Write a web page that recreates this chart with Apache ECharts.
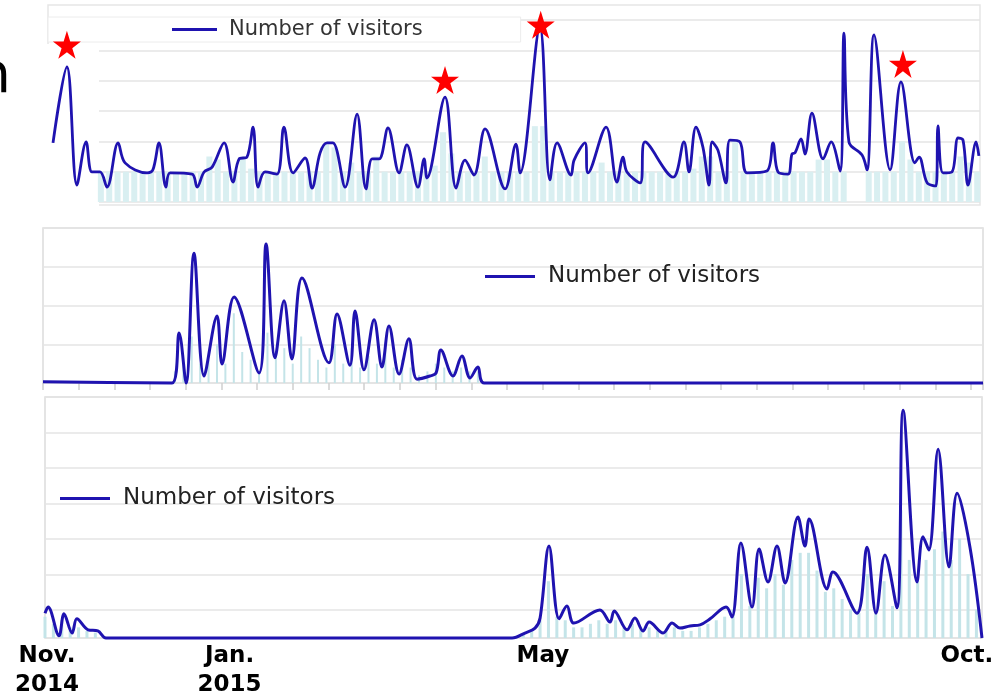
<!DOCTYPE html>
<html><head><meta charset="utf-8">
<script src="https://cdn.jsdelivr.net/npm/echarts@6/dist/echarts.min.js"></script>
<style>html,body{margin:0;padding:0;background:#fff}#c{width:1002px;height:698px}</style>
</head><body><div id="c"></div><script>
// ---- data (x = day since 1 Nov 2014, y = gridline units) ----
const seriesName = 'Number of visitors';
const topLine = [[1.8,1.95],[6.8,4.45],[10.4,0.56],[13.7,1.98],[15.8,0.99],[18.7,0.99],[21.2,0.49],[25.2,1.95],[27.7,1.29],[35.6,0.96],[37.7,1.06],[39.9,1.95],[42.4,0.49],[43.9,0.96],[51.8,0.92],[53.6,0.49],[56.1,0.99],[59.0,1.15],[63.3,1.95],[66.5,0.66],[68.7,1.42],[71.5,1.48],[73.7,2.47],[75.5,0.49],[78.0,0.99],[82.3,0.92],[84.8,2.47],[88.1,0.96],[92.4,1.45],[94.9,0.46],[97.8,1.62],[100.3,1.95],[102.4,1.95],[106.8,0.49],[111.1,2.90],[114.3,0.43],[116.5,1.42],[119.0,1.42],[122.2,2.44],[126.2,0.96],[129.0,1.88],[133.0,0.49],[135.2,1.42],[136.2,0.79],[142.7,3.46],[146.7,0.46],[149.9,1.38],[153.1,0.89],[157.1,2.41],[164.3,0.43],[168.2,1.91],[169.7,0.96],[176.8,5.77],[180.4,0.73],[183.0,1.95],[188.0,0.89],[189.1,1.38],[193.0,1.95],[194.1,0.96],[200.6,2.47],[204.5,0.66],[206.7,1.48],[208.1,0.99],[212.8,0.63],[214.6,1.98],[224.7,0.82],[228.6,1.98],[230.4,0.99],[232.9,2.47],[235.4,1.81],[237.6,0.56],[238.7,1.98],[240.8,1.71],[243.7,0.63],[245.1,2.04],[248.7,1.98],[251.3,0.96],[258.4,1.02],[260.6,1.95],[262.4,0.99],[266.0,0.92],[267.4,1.58],[268.5,1.62],[270.7,2.08],[272.1,1.58],[274.6,2.93],[278.6,1.42],[281.5,1.98],[284.7,1.02],[286.1,5.57],[287.9,1.98],[292.6,1.55],[294.4,1.06],[296.9,5.51],[302.7,1.06],[306.6,3.96],[311.6,1.29],[313.1,1.48],[316.0,0.63],[319.2,0.53],[319.9,2.51],[321.7,0.96],[324.9,0.99],[327.1,2.11],[328.9,2.04],[330.7,0.56],[333.6,1.98],[334.6,1.52]];
const topStars = [[6.8,5.18],[142.7,4.02],[177.1,5.84],[307.3,4.55]];
const barStep = 3;
const topBarStart = 19;
const topBars = [1,1,1,1,1,1,1,1,1,1,1,1,1,1.5,1.4,1,1,1.5,1.1,1,1,1,1,1,1,1,1,1.9,1.8,1,1.3,1,1,1.5,1,1,1,1,1,1,1.2,2.3,1.6,1,1,1,1.5,1,1,1,1,1,2.5,2.5,1,1,1,1,1,1,1.3,1,1,1,1,1,1,1,1,1,1,1.1,1.5,1.5,1,1,2,1,1,1,1,1,1,1,1,1,1.4,1.4,1,1,0,0,1,1,1,1,2,1.4,1,1,1,1,1,1.5,1.3,1];
const midLine = [[0,0.03],[46,0],[48.5,1.29],[51,0],[53.8,3.35],[57.4,0.18],[62,1.73],[63.8,0.49],[68.1,2.22],[77,0.26],[79.5,3.59],[82.7,0.65],[85.9,2.12],[88.7,0.62],[92.3,2.71],[101.9,0.52],[104.8,1.78],[109.4,0.46],[111.2,1.86],[114.4,0.34],[118,1.63],[120.8,0.41],[123.3,1.47],[126.9,0.23],[130.4,1.14],[133.3,0.10],[137.9,0.18],[140.1,0.26],[141.8,0.85],[146.1,0.18],[149.3,0.70],[152.2,0.13],[155,0.41],[157.2,0],[335,0]];
const midBarStart = 47;
const midBars = [0.3,0.5,1.2,0.5,0.6,1.0,0.5,1.8,0.8,0.6,0.3,1.3,0.7,0.9,0.5,1.2,0.9,0.6,0.4,1.0,0.5,0.9,0.4,0.7,0.5,0.9,0.4,0.6,0.4,0.2,0.3,0.5,0.4,0.3,0.4,0.3,0.3];
const botLine = [[0,0.70],[1.1,0.87],[5.0,0.06],[6.8,0.68],[9.7,0.14],[11.4,0.54],[15.4,0.23],[18.9,0.20],[21.8,0],[167,0],[171.6,0.14],[175.2,0.28],[177,0.56],[180.2,2.59],[183.8,0.54],[186.6,0.9],[189.1,0.42],[198.4,0.79],[202.0,0.45],[203.5,0.76],[208.1,0.23],[210.9,0.56],[213.8,0.20],[216.0,0.45],[221.0,0.14],[224.2,0.42],[227.0,0.28],[230.6,0.34],[234.2,0.37],[237.8,0.54],[243.5,0.87],[245.6,0.59],[248.8,2.68],[252.8,0.87],[255.3,2.51],[258.5,1.58],[261.7,2.59],[264.6,1.55],[269.2,3.41],[271.7,2.59],[273.2,3.35],[279.6,1.38],[281.7,1.86],[290.3,0.70],[293.9,2.56],[297.1,0.70],[300.3,2.34],[304.6,0.85],[306.8,6.42],[311.8,1.58],[313.9,2.85],[316.0,2.48],[319.3,5.32],[323.2,2.0],[326.1,4.08],[330.7,2.56],[335,0]];
const botBarStartA = 0;
const botBarsA = [0.6,0.4,0.5,0.3,0.3,0.2,0.15];
const botBarStartB = 171;
const botBarsB = [0.1,0.2,0.5,1.6,0.6,0.5,0.3,0.3,0.4,0.5,0.4,0.5,0.3,0.4,0.3,0.3,0.2,0.2,0.3,0.2,0.2,0.3,0.4,0.5,0.6,0.8,1.8,0.9,1.7,1.4,1.8,1.5,2.2,2.4,2.4,1.9,1.3,1.4,1.1,0.8,0.7,1.8,0.8,1.6,0.9,3.6,2.2,1.6,2.2,2.5,3.0,2.2,2.8,1.8,0.8];
const xTickDays = [0.7, 66, 178, 329.6];
const xTickLabels = ['Nov.\n2014', 'Jan.\n2015', 'May', 'Oct.'];

// ---- styling ----
const BLUE = '#1f13b0';
const GRIDC = '#e4e4e4';
const FONT = 'DejaVu Sans';
const STAR = 'path://M50,0 L61.2,34.5 L97.6,34.5 L68.2,55.9 L79.4,90.5 L50,69.1 L20.6,90.5 L31.8,55.9 L2.4,34.5 L38.8,34.5 Z';
function pairs(start, vals) { return vals.map((v, i) => [start + i * barStep, v]); }

const chart = echarts.init(document.getElementById('c'), null, {renderer: 'canvas'});
const hiddenX = (gi) => ({gridIndex: gi, type: 'value', min: 0, max: 335, axisLine: {show: false}, axisTick: {show: false}, axisLabel: {show: false}, splitLine: {show: false}});
const legendBase = (extra) => Object.assign({
  data: [seriesName], icon: 'rect', itemHeight: 3, selectedMode: false,
  itemStyle: {color: BLUE}
}, extra);

chart.setOption({
  animation: false,
  backgroundColor: '#fff',
  grid: [
    {left: 48, right: 22, top: 20, height: 182, outerBoundsMode: 'none', containLabel: false},
    {left: 43, right: 19, top: 228, height: 155, show: true, borderColor: '#dcdcdc', borderWidth: 1.5, outerBoundsMode: 'none', containLabel: false},
    {left: 45, right: 20, top: 397, height: 241, show: true, borderColor: '#dcdcdc', borderWidth: 1.5, outerBoundsMode: 'none', containLabel: false}
  ],
  legend: [
    legendBase({left: 48, top: 17, padding: [2, 98, 2, 124], itemWidth: 45, backgroundColor: '#fff', borderColor: '#ececec', borderWidth: 1, textStyle: {fontFamily: FONT, color: '#333', fontSize: 21, padding: [0, 0, 0, 7]}}),
    legendBase({left: 480, top: 260, itemWidth: 50, textStyle: {fontFamily: FONT, color: '#222', fontSize: 23, padding: [0, 0, 0, 8]}}),
    legendBase({left: 55, top: 482, itemWidth: 50, textStyle: {fontFamily: FONT, color: '#222', fontSize: 23, padding: [0, 0, 0, 8]}})
  ],
  xAxis: [
    hiddenX(0),
    {gridIndex: 1, type: 'value', min: 0, max: 335, interval: 12.72, axisLine: {show: false},
     axisTick: {show: true, length: 7, lineStyle: {color: '#d0d0d0', width: 1.5}}, axisLabel: {show: false}, splitLine: {show: false}},
    {gridIndex: 2, type: 'value', min: 0, max: 335, axisLine: {show: false}, axisTick: {show: false}, splitLine: {show: false},
     axisLabel: {show: true, customValues: xTickDays, showMinLabel: true, showMaxLabel: true,
       formatter: (v) => { const i = xTickDays.indexOf(v); return i >= 0 ? xTickLabels[i] : ''; },
       fontFamily: FONT, fontWeight: 'bold', fontSize: 23, color: '#000', lineHeight: 29, margin: 4}}
  ],
  yAxis: [
    {gridIndex: 0, type: 'value', min: 0, max: 6, interval: 1, axisLine: {show: false}, axisTick: {show: false}, axisLabel: {show: false}, splitLine: {show: true, lineStyle: {color: GRIDC, width: 1.5}}},
    {gridIndex: 1, type: 'value', min: 0, max: 4, interval: 1, axisLine: {show: false}, axisTick: {show: false}, axisLabel: {show: false}, splitLine: {show: true, lineStyle: {color: GRIDC, width: 1.5}}},
    {gridIndex: 2, type: 'value', min: 0, max: 6.79, axisLine: {show: false}, axisTick: {show: false}, axisLabel: {show: false}, splitLine: {show: false}},
    {gridIndex: 2, type: 'value', inverse: true, min: 0, max: 6.79, interval: 1, axisLine: {show: false}, axisTick: {show: false}, axisLabel: {show: false}, splitLine: {show: true, lineStyle: {color: GRIDC, width: 1.5}}}
  ],
  graphic: [
    {type: 'rect', z: 0, silent: true, shape: {x: 48, y: 5, width: 932, height: 200}, style: {fill: 'none', stroke: '#e6e6e6', lineWidth: 1.5}},
    {type: 'rect', z: 1, silent: true, shape: {x: 44, y: 44, width: 55, height: 166}, style: {fill: '#fff'}},
    {type: 'text', z: 5, silent: true, x: -24, y: 50, style: {text: 'n', font: '55px "DejaVu Sans"', fill: '#000', verticalAlign: 'top'}}
  ],
  series: [
    {type: 'bar', name: 'daily-top', xAxisIndex: 0, yAxisIndex: 0, data: pairs(topBarStart, topBars), barWidth: 6, itemStyle: {color: '#d9eff1'}, silent: true, z: 2},
    {type: 'line', name: seriesName, xAxisIndex: 0, yAxisIndex: 0, data: topLine, smooth: 0.35, symbol: 'none', clip: false, lineStyle: {color: BLUE, width: 2.8}, itemStyle: {color: BLUE}, z: 3},
    {type: 'scatter', name: 'stars', xAxisIndex: 0, yAxisIndex: 0, data: topStars, symbol: STAR, symbolSize: 28, clip: false, itemStyle: {color: '#ff0000', opacity: 1}, silent: true, z: 4},
    {type: 'bar', name: 'daily-mid', xAxisIndex: 1, yAxisIndex: 1, data: pairs(midBarStart, midBars), barWidth: 2, itemStyle: {color: '#c4e4e8'}, silent: true, z: 2},
    {type: 'line', name: seriesName, xAxisIndex: 1, yAxisIndex: 1, data: midLine, smooth: 0.35, symbol: 'none', clip: false, lineStyle: {color: BLUE, width: 3}, itemStyle: {color: BLUE}, z: 3},
    {type: 'bar', name: 'daily-bot-a', xAxisIndex: 2, yAxisIndex: 2, data: pairs(botBarStartA, botBarsA), barWidth: 3, itemStyle: {color: '#c4e4e8'}, silent: true, z: 2},
    {type: 'bar', name: 'daily-bot-b', xAxisIndex: 2, yAxisIndex: 2, data: pairs(botBarStartB, botBarsB), barWidth: 3, barGap: '-100%', itemStyle: {color: '#c4e4e8'}, silent: true, z: 2},
    {type: 'line', name: seriesName, xAxisIndex: 2, yAxisIndex: 2, data: botLine, smooth: 0.35, symbol: 'none', clip: false, lineStyle: {color: BLUE, width: 3}, itemStyle: {color: BLUE}, z: 3}
  ]
});
</script></body></html>
